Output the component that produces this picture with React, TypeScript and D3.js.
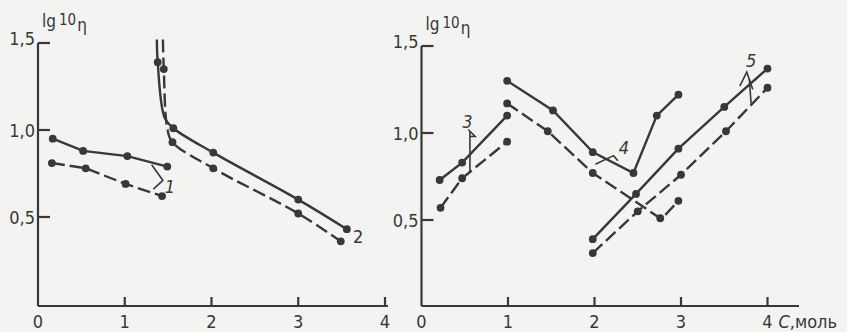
import { useEffect } from 'react';
import * as d3 from 'd3';

// --- data (C, моль ; lg 10η) ---
const s1Solid = [[0.17, 0.95], [0.52, 0.88], [1.03, 0.85], [1.49, 0.79]];
const s1Dash = [[0.16, 0.81], [0.55, 0.78], [1.01, 0.69], [1.43, 0.62]];
// curve 2 starts off the top of the axis, so the first vertices carry no dot
const s2Solid = [[1.37, 1.52], [1.38, 1.39], [1.46, 1.07], [1.56, 1.01], [2.02, 0.87], [3.0, 0.6], [3.56, 0.43]];
const s2SolidDots = [1, 3, 4, 5, 6];
const s2Dash = [[1.44, 1.52], [1.45, 1.35], [1.49, 1.01], [1.55, 0.93], [2.02, 0.78], [3.0, 0.52], [3.49, 0.36]];
const s2DashDots = [1, 3, 4, 5, 6];

const s3Solid = [[0.21, 0.73], [0.47, 0.83], [0.99, 1.1]];
const s3Dash = [[0.22, 0.57], [0.47, 0.74], [0.99, 0.95]];
const s4Solid = [[0.99, 1.3], [1.52, 1.13], [1.98, 0.89], [2.45, 0.77], [2.72, 1.1], [2.97, 1.22]];
const s4Dash = [[0.99, 1.17], [1.46, 1.01], [1.98, 0.77], [2.76, 0.51], [2.82, 0.53], [2.97, 0.61]];
const s4DashDots = [0, 1, 2, 3, 5];
const s5Solid = [[1.98, 0.39], [2.48, 0.65], [2.97, 0.91], [3.5, 1.15], [4.0, 1.37]];
const s5Dash = [[1.98, 0.31], [2.5, 0.55], [3.0, 0.76], [3.52, 1.01], [4.0, 1.26]];

const xTicks = [0, 1, 2, 3, 4];
const yTicks = [0.5, 1.0, 1.5];

const INK = '#383838';
const FONT = '"DejaVu Sans Condensed", "Liberation Sans Narrow", sans-serif';

const comma = (v) => v.toFixed(1).replace('.', ',');

function Panel({ x0, x4, yBottom, yTop, baseline, xEnd, children }) {
  const x = d3.scaleLinear().domain([0, 4]).range([x0, x4]);
  const y = d3.scaleLinear().domain([0, 1.5]).range([yBottom, yTop]);
  return (
    <g>
      {/* y axis */}
      <line x1={x(0)} x2={x(0)} y1={baseline} y2={y(1.5)} stroke={INK} strokeWidth={2.2} />
      {yTicks.map((t) => (
        <g key={t}>
          <line x1={x(0)} x2={x(0) + 12} y1={y(t)} y2={y(t)} stroke={INK} strokeWidth={2.2} />
          <text x={x(0) - 3} y={y(t) + (t === 1.5 ? 2 : 7)} textAnchor="end" fontSize={18}>
            {comma(t)}
          </text>
        </g>
      ))}
      {/* x axis */}
      <line x1={x(0)} x2={xEnd} y1={baseline} y2={baseline} stroke={INK} strokeWidth={2.2} />
      {xTicks.map((t) => (
        <g key={t}>
          {t > 0 && <line x1={x(t)} x2={x(t)} y1={baseline} y2={baseline - 9} stroke={INK} strokeWidth={2.2} />}
          <text x={x(t)} y={baseline + 22} textAnchor="middle" fontSize={18}>
            {t}
          </text>
        </g>
      ))}
      <text x={x(0) + 4} y={y(1.5) - 16} fontSize={17}>
        lg
        <tspan dx={3} dy={-2} fontSize={15}>10</tspan>
        <tspan dx={1} dy={6} fontSize={17}>η</tspan>
      </text>
      {children(x, y)}
    </g>
  );
}

function Series({ x, y, pts, dashed, dots, curve }) {
  const gen = d3
    .line()
    .x((d) => x(d[0]))
    .y((d) => y(d[1]))
    .curve(curve || d3.curveLinear);
  const idx = dots || pts.map((_, i) => i);
  return (
    <g>
      <path
        d={gen(pts)}
        fill="none"
        stroke={INK}
        strokeWidth={2.4}
        strokeDasharray={dashed ? '13 5' : null}
      />
      {idx.map((i) => (
        <circle key={i} cx={x(pts[i][0])} cy={y(pts[i][1])} r={3.9} fill={INK} />
      ))}
    </g>
  );
}

function Note({ x, y, pts }) {
  const gen = d3.line().x((d) => x(d[0])).y((d) => y(d[1]));
  return <path d={gen(pts)} fill="none" stroke={INK} strokeWidth={1.6} />;
}

export default function App() {
  useEffect(() => {
    document.body.style.margin = '0';
  }, []);
  const bend = d3.curveCatmullRom.alpha(0.5);
  return (
    <svg
      width={847}
      height={332}
      style={{ display: 'block', background: '#f3f3f1' }}
      fontFamily={FONT}
      fill={INK}
      stroke={INK}
      strokeWidth={0}
    >
      <g style={{ paintOrder: 'stroke' }}>
        <Panel x0={38} x4={385} yBottom={304} yTop={43} baseline={306} xEnd={388}>
          {(x, y) => (
            <g>
              <Series x={x} y={y} pts={s1Solid} />
              <Series x={x} y={y} pts={s1Dash} dashed />
              <Series x={x} y={y} pts={s2Solid} dots={s2SolidDots} curve={bend} />
              <Series x={x} y={y} pts={s2Dash} dots={s2DashDots} dashed curve={bend} />
              <Note x={x} y={y} pts={[[1.31, 0.8], [1.44, 0.71], [1.33, 0.66]]} />
              <text x={x(1.52)} y={y(0.64)} fontSize={18} fontStyle="italic" textAnchor="middle">1</text>
              <text x={x(3.69)} y={y(0.35)} fontSize={18} textAnchor="middle">2</text>
            </g>
          )}
        </Panel>
        <Panel x0={421.5} x4={767.5} yBottom={307} yTop={46} baseline={306} xEnd={799}>
          {(x, y) => (
            <g>
              <Series x={x} y={y} pts={s3Solid} />
              <Series x={x} y={y} pts={s3Dash} dashed />
              <Series x={x} y={y} pts={s4Solid} />
              <Series x={x} y={y} pts={s4Dash} dots={s4DashDots} dashed />
              <Series x={x} y={y} pts={s5Solid} />
              <Series x={x} y={y} pts={s5Dash} dashed />
              <Note x={x} y={y} pts={[[0.54, 1.02], [0.62, 0.98], [0.55, 0.98]]} />
              <Note x={x} y={y} pts={[[0.56, 1.01], [0.56, 0.77]]} />
              <text x={x(0.53)} y={y(1.03)} fontSize={18} fontStyle="italic" textAnchor="middle">3</text>
              <Note x={x} y={y} pts={[[2.01, 0.82], [2.22, 0.87], [2.27, 0.84]]} />
              <text x={x(2.34)} y={y(0.88)} fontSize={18} fontStyle="italic" textAnchor="middle">4</text>
              <Note x={x} y={y} pts={[[3.68, 1.27], [3.76, 1.35], [3.83, 1.25]]} />
              <Note x={x} y={y} pts={[[3.79, 1.31], [3.81, 1.17]]} />
              <text x={x(3.81)} y={y(1.38)} fontSize={18} fontStyle="italic" textAnchor="middle">5</text>
              <text x={x(4) + 11} y={328} fontSize={18}>
                <tspan fontStyle="italic">С</tspan>,моль
              </text>
            </g>
          )}
        </Panel>
      </g>
    </svg>
  );
}
